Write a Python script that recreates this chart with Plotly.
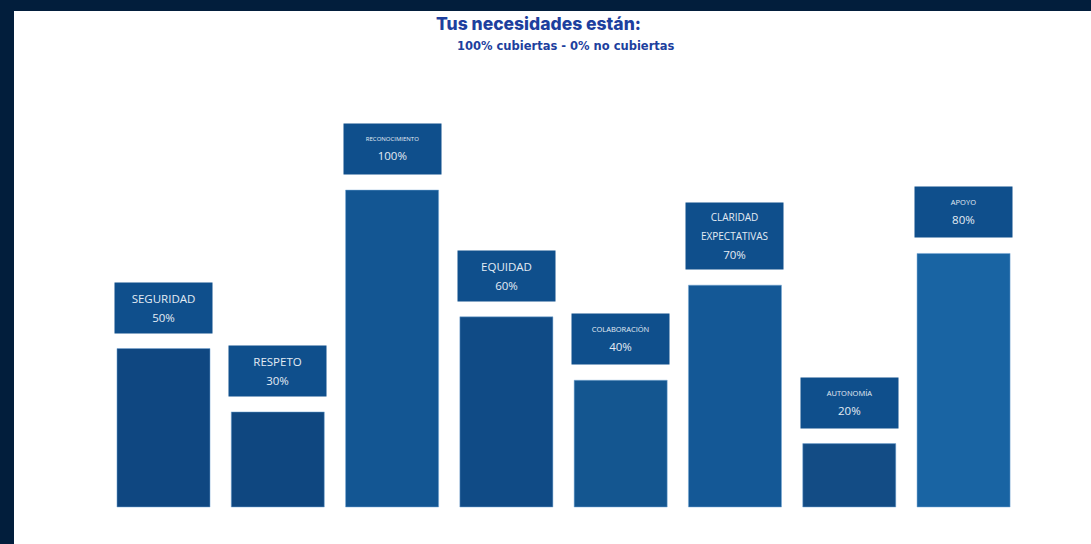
import plotly.graph_objects as go

categories = ["SEGURIDAD", "RESPETO", "RECONOCIMIENTO", "EQUIDAD",
              "COLABORACIÓN", "CLARIDAD<br>EXPECTATIVAS", "AUTONOMÍA", "APOYO"]
values = [50, 30, 100, 60, 40, 70, 20, 80]
label_names = ["SEGURIDAD", "RESPETO", "RECONOCIMIENTO", "EQUIDAD",
               "COLABORACIÓN", "CLARIDAD<br>EXPECTATIVAS", "AUTONOMÍA", "APOYO"]
name_sizes = [11.5, 11.5, 6, 11.5, 7.5, 10, 7.5, 7.5]
bar_colors = ["#0f4781", "#0f4780", "#135693", "#104b86",
              "#145690", "#145896", "#134c85", "#1964a3"]

x_idx = list(range(len(categories)))

fig = go.Figure()
fig.add_trace(go.Bar(
    x=x_idx, y=values,
    marker=dict(color=bar_colors, line=dict(width=1, color="rgba(120,170,215,0.5)")),
    hoverinfo="skip",
))

for i, (v, nm, sz) in enumerate(zip(values, label_names, name_sizes)):
    nlines = nm.count("<br>") + 1
    txt = f'<span style="font-size:{sz}px">{nm}</span><br><span style="font-size:11.5px">{v}%</span>'
    fig.add_annotation(
        x=i, y=v, xref="x", yref="y",
        text=txt, showarrow=False,
        xanchor="center", yanchor="bottom", yshift=15,
        width=97, height=50 if nlines == 1 else 66,
        bgcolor="#0f4f8c", borderpad=0,
        font=dict(family="Open Sans, sans-serif", size=14.5, color="#e4ecf4"),
        align="center", valign="middle",
    )

fig.add_annotation(
    x=0.4866, y=0.976, xref="paper", yref="paper",
    text="Tus necesidades están:", showarrow=False,
    xanchor="center", yanchor="middle",
    font=dict(family="Inter, sans-serif", size=17.5, color="#1d3f9e", weight=800),
)
fig.add_annotation(
    x=0.5125, y=0.934, xref="paper", yref="paper",
    text="100% cubiertas - 0% no cubiertas", showarrow=False,
    xanchor="center", yanchor="middle",
    font=dict(family="DejaVu Sans, sans-serif", size=11.5, color="#1d3f9e", weight=700),
)

fig.update_layout(
    width=1091, height=544,
    margin=dict(l=14, r=0, t=11, b=0),
    paper_bgcolor="#021e3c",
    plot_bgcolor="#ffffff",
    bargap=0.186,
    showlegend=False,
    xaxis=dict(range=[-1.308, 8.115], visible=False, showgrid=False, zeroline=False),
    yaxis=dict(range=[-11.67, 156.5], visible=False, showgrid=False, zeroline=False),
)

fig.write_html("out.html")
